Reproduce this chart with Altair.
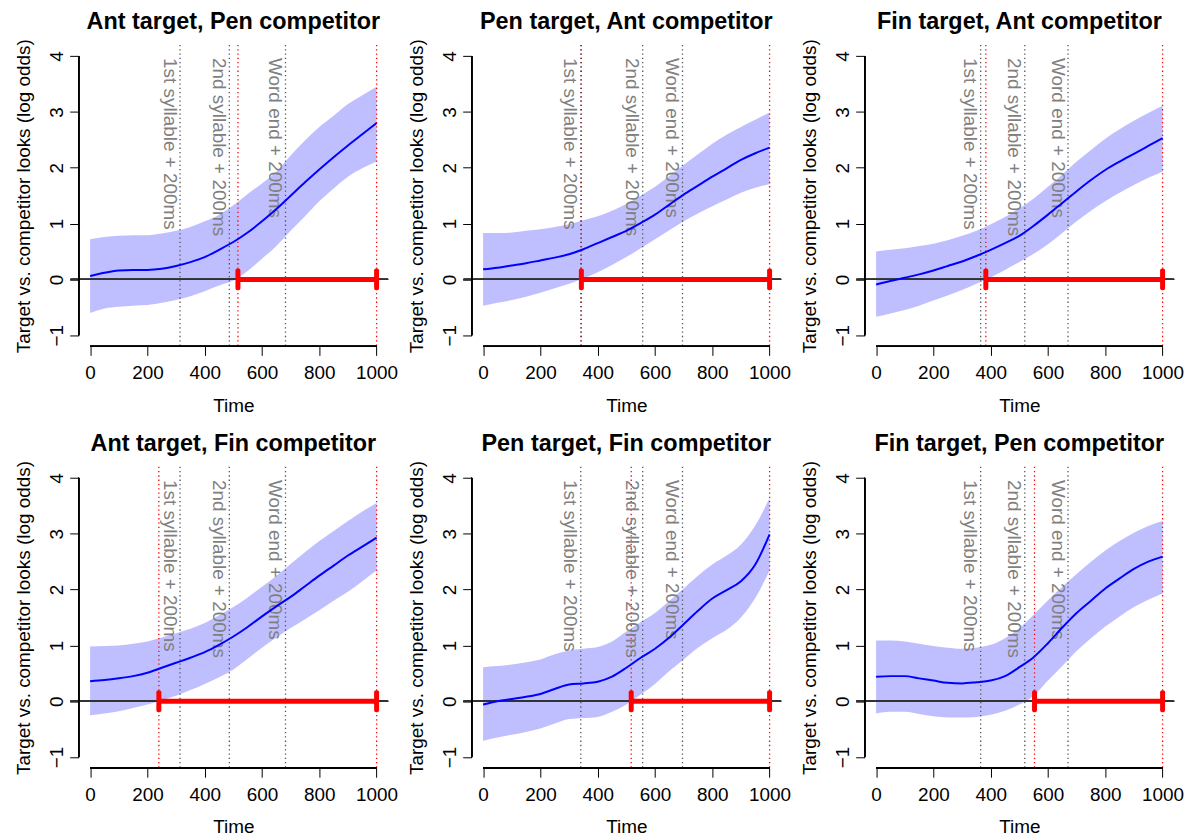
import altair as alt
import pandas as pd

# ---------------- data ----------------
time_grid = [0, 50, 100, 150, 200, 250, 300, 350, 400, 450, 500,
             550, 600, 650, 700, 750, 800, 850, 900, 950, 1000]

panel_titles = ["Ant target, Pen competitor", "Pen target, Ant competitor",
                "Fin target, Ant competitor", "Ant target, Fin competitor",
                "Pen target, Fin competitor", "Fin target, Pen competitor"]
panel_target = ["Ant", "Pen", "Fin", "Ant", "Pen", "Fin"]

fit_1 = [0.06, 0.12, 0.16, 0.17, 0.17, 0.19, 0.24, 0.31, 0.40, 0.53, 0.67,
         0.84, 1.04, 1.26, 1.50, 1.74, 1.97, 2.19, 2.40, 2.60, 2.80]
hi_1 = [0.72, 0.76, 0.78, 0.79, 0.79, 0.82, 0.87, 0.94, 1.04, 1.16, 1.33,
        1.53, 1.72, 1.93, 2.22, 2.49, 2.73, 2.93, 3.14, 3.30, 3.45]
lo_1 = [-0.60, -0.52, -0.49, -0.47, -0.46, -0.42, -0.37, -0.30, -0.21, -0.11, -0.02,
        0.15, 0.37, 0.60, 0.87, 1.13, 1.40, 1.63, 1.84, 1.99, 2.11]

fit_2 = [0.18, 0.21, 0.25, 0.29, 0.34, 0.39, 0.45, 0.54, 0.65, 0.76, 0.87,
         1.01, 1.16, 1.34, 1.52, 1.68, 1.84, 1.99, 2.14, 2.26, 2.36]
hi_2 = [0.83, 0.83, 0.84, 0.87, 0.90, 0.94, 0.99, 1.06, 1.13, 1.23, 1.35,
        1.50, 1.66, 1.85, 2.05, 2.24, 2.43, 2.59, 2.73, 2.86, 2.99]
lo_2 = [-0.47, -0.42, -0.37, -0.31, -0.24, -0.16, -0.08, 0.02, 0.13, 0.26, 0.40,
        0.56, 0.72, 0.88, 1.04, 1.18, 1.31, 1.43, 1.55, 1.64, 1.71]

fit_3 = [-0.09, -0.03, 0.03, 0.09, 0.16, 0.24, 0.32, 0.42, 0.53, 0.65, 0.78,
         0.96, 1.16, 1.37, 1.58, 1.78, 1.96, 2.11, 2.25, 2.39, 2.53]
hi_3 = [0.50, 0.53, 0.56, 0.60, 0.64, 0.70, 0.78, 0.87, 0.99, 1.12, 1.27,
        1.45, 1.66, 1.88, 2.11, 2.32, 2.52, 2.69, 2.84, 2.98, 3.11]
lo_3 = [-0.67, -0.61, -0.55, -0.47, -0.38, -0.29, -0.19, -0.08, 0.04, 0.17, 0.31,
        0.46, 0.63, 0.83, 1.04, 1.23, 1.40, 1.55, 1.69, 1.82, 1.93]

fit_4 = [0.36, 0.38, 0.41, 0.45, 0.51, 0.60, 0.69, 0.78, 0.88, 1.01, 1.16,
         1.33, 1.52, 1.70, 1.87, 2.06, 2.25, 2.43, 2.61, 2.77, 2.93]
hi_4 = [0.98, 0.99, 1.00, 1.03, 1.07, 1.14, 1.22, 1.30, 1.40, 1.54, 1.69,
        1.86, 2.05, 2.25, 2.46, 2.67, 2.87, 3.05, 3.23, 3.40, 3.55]
lo_4 = [-0.25, -0.22, -0.18, -0.12, -0.06, 0.02, 0.10, 0.20, 0.31, 0.43, 0.57,
        0.76, 0.96, 1.14, 1.31, 1.47, 1.63, 1.80, 1.96, 2.15, 2.34]

fit_5 = [-0.06, 0.00, 0.04, 0.08, 0.13, 0.22, 0.30, 0.32, 0.35, 0.44, 0.60,
         0.78, 0.94, 1.14, 1.38, 1.62, 1.84, 1.99, 2.15, 2.45, 2.99]
hi_5 = [0.61, 0.63, 0.66, 0.70, 0.75, 0.84, 0.91, 0.94, 0.97, 1.07, 1.25,
        1.42, 1.58, 1.80, 2.02, 2.25, 2.45, 2.61, 2.81, 3.15, 3.64]
lo_5 = [-0.71, -0.65, -0.60, -0.55, -0.49, -0.40, -0.32, -0.30, -0.28, -0.19, -0.06,
        0.12, 0.31, 0.54, 0.75, 0.96, 1.13, 1.28, 1.50, 1.85, 2.34]

fit_6 = [0.44, 0.45, 0.45, 0.41, 0.37, 0.33, 0.32, 0.34, 0.37, 0.45, 0.61,
         0.79, 1.04, 1.32, 1.58, 1.80, 2.02, 2.20, 2.37, 2.50, 2.59]
hi_6 = [1.09, 1.09, 1.07, 1.03, 0.99, 0.96, 0.94, 0.96, 1.01, 1.13, 1.31,
        1.55, 1.81, 2.05, 2.28, 2.50, 2.70, 2.87, 3.02, 3.14, 3.23]
lo_6 = [-0.22, -0.19, -0.19, -0.23, -0.27, -0.29, -0.29, -0.28, -0.24, -0.17, -0.06,
        0.10, 0.37, 0.63, 0.90, 1.13, 1.34, 1.52, 1.69, 1.82, 1.93]

fits = [fit_1, fit_2, fit_3, fit_4, fit_5, fit_6]
his = [hi_1, hi_2, hi_3, hi_4, hi_5, hi_6]
los = [lo_1, lo_2, lo_3, lo_4, lo_5, lo_6]

sig_start = [516, 343, 383, 240, 517, 553]
sig_end = [1000, 1000, 1000, 1000, 1000, 1000]

event_labels = ["1st syllable + 200ms", "2nd syllable + 200ms", "Word end + 200ms"]
event_times = {"Ant": [314, 486, 682], "Pen": [341, 557, 696], "Fin": [365, 519, 670]}

x_ticks = [0, 200, 400, 600, 800, 1000]
y_ticks = [-1, 0, 1, 2, 3, 4]
x_domain = [-40, 1040]
y_domain = [-1.2, 4.2]

# ---------------- style ----------------
FONT = "Liberation Sans"
PW, PH = 311, 303
BAND = "#BFBFFF"
TXT_GRAY = "#808080"


def panel(i):
    df = pd.DataFrame({"Time": time_grid, "fit": fits[i], "lo": los[i], "hi": his[i]})
    ev = pd.DataFrame({"t": event_times[panel_target[i]], "label": event_labels})
    sig = pd.DataFrame({"start": [sig_start[i]], "end": [sig_end[i]]})
    sig_pts = pd.DataFrame({"t": [sig_start[i], sig_end[i]]})

    xs = alt.Scale(domain=x_domain, nice=False, zero=False)
    ys = alt.Scale(domain=y_domain, nice=False, zero=False)
    xaxis = alt.Axis(values=x_ticks, domain=False, grid=False, tickSize=9,
                     tickColor="black", tickWidth=1, labelFontSize=19,
                     labelColor="black", labelFont=FONT, labelPadding=8,
                     titleFont=FONT, titleFontSize=19, titleFontWeight="normal",
                     titleColor="black", titlePadding=14, format="d",
                     labelOverlap=False)
    yaxis = alt.Axis(values=y_ticks, domain=False, grid=False, tickSize=9,
                     tickColor="black", tickWidth=1, labelFontSize=19,
                     labelColor="black", labelFont=FONT, labelAngle=270,
                     labelPadding=3, titleFont=FONT, titleFontSize=19,
                     titleFontWeight="normal", titleColor="black",
                     titlePadding=14, format="d", labelOverlap=False)

    band = alt.Chart(df).mark_area(color=BAND, opacity=1, interpolate="monotone").encode(
        x=alt.X("Time:Q", scale=xs, axis=xaxis, title="Time"),
        y=alt.Y("lo:Q", scale=ys, axis=yaxis,
                title="Target vs. competitor looks (log odds)"),
        y2="hi:Q")

    zero = alt.Chart(df).mark_rule(color="#333333", strokeWidth=1).encode(
        y=alt.datum(0), x=alt.value(-8), x2=alt.value(PW))

    ev_rule = alt.Chart(ev).mark_rule(color="#555555", strokeWidth=1.3,
                                      strokeDash=[1.3, 3]).encode(x="t:Q")
    red_rule = alt.Chart(sig_pts).mark_rule(color="#FF0000", strokeWidth=1.3,
                                            strokeDash=[1.3, 3]).encode(x="t:Q")
    ev_text = alt.Chart(ev).mark_text(angle=90, align="left", baseline="top",
                                      fontSize=19, font=FONT, color=TXT_GRAY,
                                      dy=1.5, dx=2).encode(
        x="t:Q", y=alt.datum(y_ticks[-1]), text="label:N")

    line = alt.Chart(df).mark_line(color="#0000FF", strokeWidth=2,
                                   interpolate="monotone").encode(x="Time:Q", y="fit:Q")

    seg = alt.Chart(sig).mark_rule(color="#FF0000", strokeWidth=5).encode(
        x="start:Q", x2="end:Q", y=alt.datum(0))
    caps = alt.Chart(sig_pts).mark_tick(color="#FF0000", orient="vertical",
                                        size=22, thickness=5, opacity=1,
                                        cornerRadius=2).encode(
        x="t:Q", y=alt.datum(0))

    yline = alt.Chart(df).mark_rule(color="black", strokeWidth=1).encode(
        x=alt.value(0), y=alt.datum(y_ticks[0]), y2=alt.datum(y_ticks[-1]))
    xline = alt.Chart(df).mark_rule(color="black", strokeWidth=1).encode(
        y=alt.value(PH), x=alt.datum(x_ticks[0]), x2=alt.datum(x_ticks[-1]))

    return alt.layer(band, zero, ev_rule, red_rule, ev_text, line, seg, caps,
                     yline, xline).properties(
        width=PW, height=PH,
        title=alt.TitleParams(panel_titles[i], font=FONT, fontSize=23.5,
                              fontWeight="bold", color="black", anchor="middle",
                              frame="group", offset=5))


chart = alt.concat(*[panel(i) for i in range(6)], columns=3,
                   spacing={"row": 121, "column": 84}, bounds="flush").properties(
    padding={"left": 7, "top": 0, "right": 0, "bottom": 0},
    background="white"
).configure_view(stroke=None)

chart.save("out.html", embed_options={"renderer": "svg", "actions": False})
